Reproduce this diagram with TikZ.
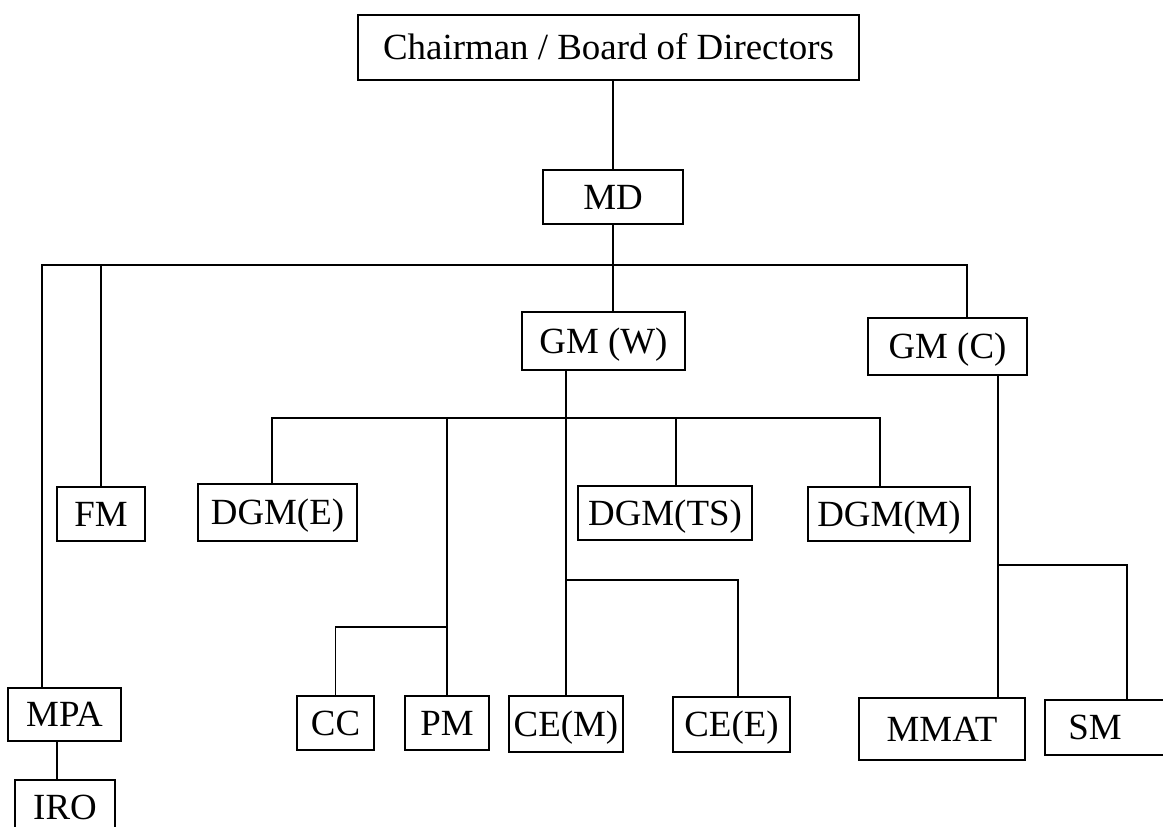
\documentclass[tikz,border=0pt]{standalone}
\usepackage{fontspec}
\setmainfont{Liberation Serif}
\usepackage{tikz}
\usetikzlibrary{positioning, calc}
\tikzset{
  post/.style={rectangle, draw=black, fill=white, line width=1.13pt,
    inner sep=0pt, text height=0.6cm, text depth=0.11cm,
    font=\fontsize{21}{24}\selectfont},
  line/.style={line width=1.13pt, color=black}
}

\begin{document}
\begin{tikzpicture}[x=0.02cm, y=-0.02cm]
  \clip (0,0) rectangle (1163,827);
  % top of the chart
  \node[post, minimum width=10.02cm, minimum height=1.3cm] (chair) at (608.5,47.5) {Chairman / Board of Directors};
  \node[post, minimum width=2.8cm, minimum height=1.08cm] (md) at (613,197) {MD};
  % general managers
  \node[post, minimum width=3.26cm, minimum height=1.16cm] (gmw) at (603.5,341) {GM (W)};
  \node[post, minimum width=3.18cm, minimum height=1.14cm] (gmc) at (947.5,346.5) {GM (C)};
  % second row
  \node[post, minimum width=1.76cm, minimum height=1.08cm] (fm) at (101,514) {FM};
  \node[post, minimum width=3.18cm, minimum height=1.14cm] (dgme) at (277.5,512.5) {DGM(E)};
  \node[post, minimum width=3.48cm, minimum height=1.08cm] (dgmts) at (665,513) {DGM(TS)};
  \node[post, minimum width=3.24cm, minimum height=1.08cm] (dgmm) at (889,514) {DGM(M)};
  % third row
  \node[post, minimum width=2.26cm, minimum height=1.06cm] (mpa) at (64.5,714.5) {MPA};
  \node[post, minimum width=1.54cm, minimum height=1.08cm] (cc) at (335.5,723) {CC};
  \node[post, minimum width=1.68cm, minimum height=1.08cm] (pm) at (447,723) {PM};
  \node[post, minimum width=2.28cm, minimum height=1.12cm] (cem) at (566,724) {CE(M)};
  \node[post, minimum width=2.34cm, minimum height=1.1cm] (cee) at (731.5,724.5) {CE(E)};
  \node[post, minimum width=3.32cm, minimum height=1.24cm] (mmat) at (942,729) {MMAT};
  \node[post, minimum width=2.5cm, minimum height=1.1cm] (sm) at (1107.5,727.5) {SM\kern0.5cm};
  \node[post, minimum width=2.0cm, minimum height=1.1cm] (iro) at (65,807.5) {IRO};
  % junction points
  \coordinate (busL) at (42,265);
  \coordinate (busR) at (967,265);
  \coordinate (busTwoL) at (272,418);
  \coordinate (busTwoR) at (880,418);
  \coordinate (tsdrop) at (676,418);
  \coordinate (ccj) at (447,627);
  \coordinate (cej) at (566,580);
  \coordinate (cdrop) at (998,565);
  \coordinate (smj) at (1127,565);
  % connectors from the top
  \draw[line] (md.north |- chair.south) -- (md.north);
  \draw[line] (md.south) -- (md.south |- gmw.north);
  \draw[line] (busL |- mpa.north) -- (busL) -- (busR) -- (busR |- gmc.north);
  \draw[line] (fm.north |- busL) -- (fm.north);
  \draw[line] ([xshift=-0.15cm]mpa.south) -- ([xshift=-0.15cm]mpa.south |- iro.north);
  % under GM (W)
  \draw[line] (cem.north |- gmw.south) -- (cem.north);
  \draw[line] (busTwoL |- dgme.north) -- (busTwoL) -- (busTwoR) -- (busTwoR |- dgmm.north);
  \draw[line] (tsdrop) -- (tsdrop |- dgmts.north);
  \draw[line] (pm.north |- busTwoL) -- (pm.north);
  \draw[line] (ccj) -| (cc.north);
  \draw[line] (cej) -| ([xshift=0.13cm]cee.north);
  % under GM (C)
  \draw[line] (cdrop |- gmc.south) -- (cdrop |- mmat.north);
  \draw[line] (cdrop) -- (smj) -- (smj |- sm.north);
\end{tikzpicture}
\end{document}
